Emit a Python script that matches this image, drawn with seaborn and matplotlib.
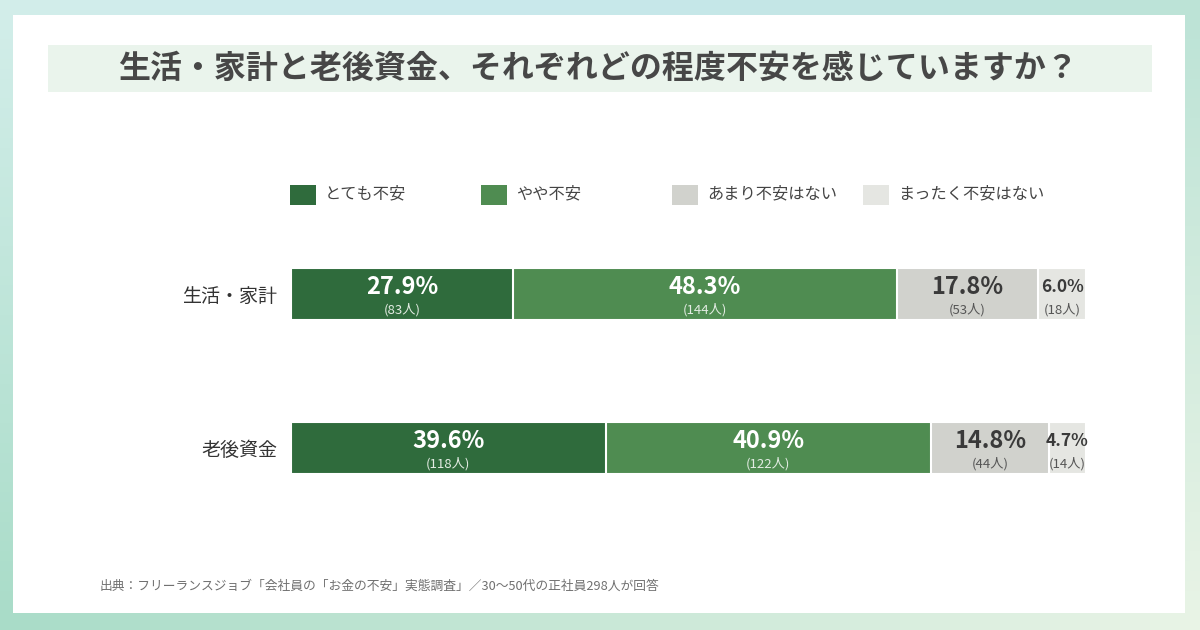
import numpy as np
import pandas as pd
import matplotlib
matplotlib.use("Agg")
import matplotlib.pyplot as plt
from matplotlib.patches import Rectangle
import seaborn as sns

categories = ["生活・家計", "老後資金"]
segments = ["とても不安", "やや不安", "あまり不安はない", "まったく不安はない"]
pct_life = [27.9, 48.3, 17.8, 6.0]
pct_old = [39.6, 40.9, 14.8, 4.7]
cnt_life = [83, 144, 53, 18]
cnt_old = [118, 122, 44, 14]
colors = ["#2f6b3c", "#4f8c51", "#d1d2cd", "#e5e6e2"]
text_colors = ["white", "white", "#3a3a3a", "#3a3a3a"]
sub_colors = ["#e3ece3", "#e3ece3", "#555555", "#555555"]
title = "生活・家計と老後資金、それぞれどの程度不安を感じていますか？"
source = "出典：フリーランスジョブ「会社員の「お金の不安」実態調査」／30〜50代の正社員298人が回答"

sns.set_theme(style="white")
plt.rcParams["font.family"] = ["Noto Sans CJK JP", "DejaVu Sans"]

W, H = 1200, 630
fig = plt.figure(figsize=(12, 6.3), dpi=100)

# background gradient
bg = fig.add_axes([0, 0, 1, 1])
bg.set_axis_off()
tl = np.array([0xd3, 0xee, 0xea]) / 255
tr = np.array([0xbc, 0xe3, 0xd6]) / 255
tm = np.array([0xc8, 0xe8, 0xf5]) / 255
bl = np.array([0xa9, 0xdc, 0xc8]) / 255
br = np.array([0xe9, 0xf4, 0xe6]) / 255
ny, nx = 64, 120
img = np.zeros((ny, nx, 3))
for j in range(ny):
    v = j / (ny - 1)
    for i in range(nx):
        u = i / (nx - 1)
        top = tl * (1 - u) ** 2 + 2 * tm * u * (1 - u) + tr * u ** 2
        bot = bl * (1 - u) + br * u
        img[j, i] = top * (1 - v) + bot * v
bg.imshow(img, aspect="auto", extent=[0, 1, 0, 1], origin="upper")
bg.set_xlim(0, 1)
bg.set_ylim(0, 1)

def px(x, y):
    return x / W, 1 - y / H

# white card
fig.patches.append(Rectangle(px(13, 613), 1172 / W, 598 / H, transform=fig.transFigure,
                             facecolor="white", edgecolor="none", zorder=1))
# title band
fig.patches.append(Rectangle(px(48, 92), 1104 / W, 47 / H, transform=fig.transFigure,
                             facecolor="#eaf4ec", edgecolor="none", zorder=2))
fig.text(598 / W, 1 - 69 / H, title, ha="center", va="center", fontsize=23,
         fontweight="bold", color="#474747", zorder=3)

# legend
leg_x = [290, 481, 672, 863]
for x, lab, c in zip(leg_x, segments, colors):
    fig.patches.append(Rectangle(px(x, 205), 26 / W, 20 / H, transform=fig.transFigure,
                                 facecolor=c, edgecolor="none", zorder=3))
    fig.text((x + 35) / W, 1 - 194 / H, lab, ha="left", va="center", fontsize=11.7,
             color="#444444", zorder=3)

# bar axes
top_px, bot_px = 269, 473
ax = fig.add_axes([291 / W, 1 - bot_px / H, 795 / W, (bot_px - top_px) / H])
ax.set_zorder(3)
ax.patch.set_alpha(0)

rows = []
for cat, pcts, cnts in [(categories[0], pct_life, cnt_life), (categories[1], pct_old, cnt_old)]:
    cum = np.cumsum(pcts)
    for k, seg in enumerate(segments):
        rows.append(dict(category=cat, segment=seg, k=k, pct=pcts[k], cnt=cnts[k],
                         cum=cum[k], start=cum[k] - pcts[k]))
df = pd.DataFrame(rows)
total = df.groupby("category")["pct"].transform("sum")
df["cum_scaled"] = df["cum"] / total * 100
df["start_scaled"] = df["start"] / total * 100

bw = 52 / 154
for k in reversed(range(len(segments))):
    sub = df[df["k"] == k]
    sns.barplot(data=sub, x="cum_scaled", y="category", order=categories, orient="h",
                color=colors[k], width=bw, edgecolor="white", linewidth=1.5,
                saturation=1, ax=ax)

for _, r in df.iterrows():
    yi = categories.index(r["category"])
    xc = (r["start_scaled"] + r["cum_scaled"]) / 2
    fs = 17 if r["pct"] >= 10 else 12.5
    ax.text(xc, yi - 0.045, f"{r['pct']:.1f}%", ha="center", va="center", fontsize=fs,
            fontweight="bold", color=text_colors[r["k"]])
    ax.text(xc, yi + 0.105, f"({r['cnt']}人)", ha="center", va="center", fontsize=9.5,
            color=sub_colors[r["k"]])

ax.set_xlim(0, 100)
half = 25 / 154
ax.set_ylim(1 + half, -half)
ax.set_xlabel("")
ax.set_ylabel("")
ax.set_xticks([])
ax.tick_params(axis="y", length=0, pad=10, labelsize=13.7, labelcolor="#333333")
for s in ax.spines.values():
    s.set_visible(False)

fig.text(100 / W, 1 - 586 / H, source, ha="left", va="center", fontsize=9.2,
         color="#707070", zorder=3)

fig.savefig("out.png", dpi=100)
